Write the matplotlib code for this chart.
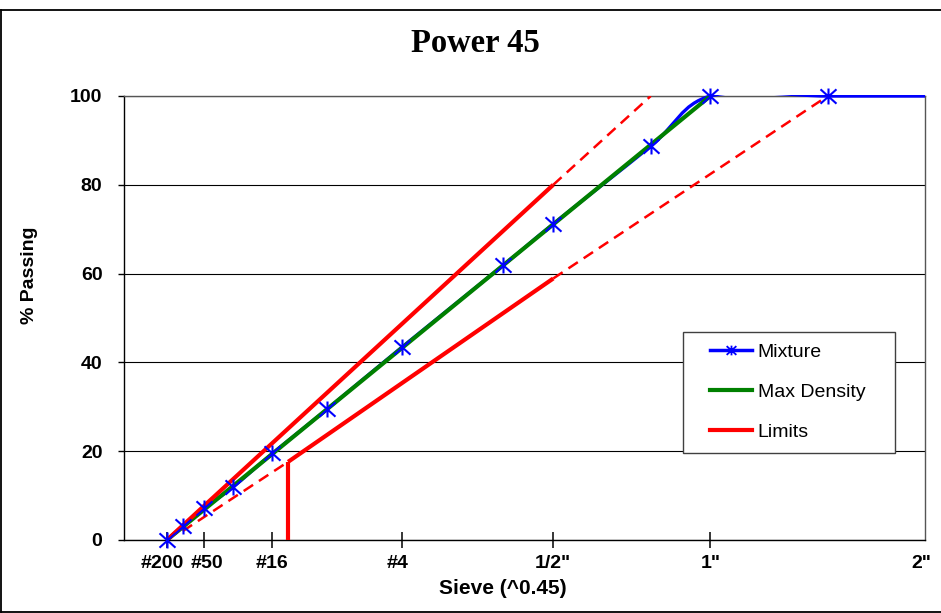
import numpy as np
import matplotlib
matplotlib.use("Agg")
import matplotlib.pyplot as plt
from matplotlib.path import Path
from matplotlib.patches import PathPatch
from matplotlib.lines import Line2D
from matplotlib.legend_handler import HandlerLine2D
from matplotlib.transforms import Bbox, TransformedBbox, ScaledTranslation

plt.rcParams['font.family'] = ['Liberation Sans', 'DejaVu Sans']

POW = 0.45

# ---- data ----
sieve_ticks_mm = [0.075, 0.3, 1.18, 4.75, 12.5, 25.0, 50.0]
sieve_labels = ['#200', '#50', '#16', '#4', '1/2"', '1"', '2"']

mix_sizes_mm = [0.075, 0.15, 0.3, 0.6, 1.18, 2.36, 4.75, 9.5, 12.5, 19.7, 25.0, 37.5, 50.0]
mix_passing = [0, 3.2, 7.1, 12.0, 19.5, 29.4, 43.4, 61.9, 71.2, 88.7, 100, 100, 100]

maxd_sizes = [0.075, 25.0]
maxd_passing = [0, 100]

upper_solid_sizes = [0.075, 12.5]
upper_solid_pass = [0, 80]
upper_dash_sizes = [12.5, 19.7]
upper_dash_pass = [80, 100]

lower_dash1_sizes = [0.15, 1.475]
lower_dash1_pass = [2.0, 17.6]
lower_solid_sizes = [1.475, 12.5]
lower_solid_pass = [17.6, 58.9]
lower_dash2_sizes = [12.5, 37.5]
lower_dash2_pass = [58.9, 100]
vline_sizes = [1.475, 1.475]
vline_pass = [0, 17.6]


def forward(x):
    x = np.asarray(x, dtype=float)
    return np.sign(x) * np.abs(x) ** POW


def inverse(x):
    x = np.asarray(x, dtype=float)
    return np.sign(x) * np.abs(x) ** (1.0 / POW)


fig = plt.figure(figsize=(9.41, 6.13), dpi=100)
ax = fig.add_axes([124 / 941, 1 - 540 / 613, 801 / 941, 444 / 613])
ax.set_xscale('function', functions=(forward, inverse))

BLUE = '#0000FF'
GREEN = '#008000'
RED = '#FF0000'

# Excel-like star marker: X plus vertical bar
star = Path([(-1, -0.9), (1, 0.9), (-1, 0.9), (1, -0.9), (0, -1), (0, 1)],
            [Path.MOVETO, Path.LINETO, Path.MOVETO, Path.LINETO, Path.MOVETO, Path.LINETO])

# smoothed mixture line (Excel-like smoothing, bezier through the points)
P = np.column_stack([forward(mix_sizes_mm), np.asarray(mix_passing, float)])
n = len(P)
verts = [P[0]]
codes = [Path.MOVETO]
for i in range(n - 1):
    p0 = P[i - 1] if i > 0 else P[i]
    p1 = P[i]
    p2 = P[i + 1]
    p3 = P[i + 2] if i + 2 < n else P[i + 1]
    c1 = p1 + (p2 - p0) / 6.0
    c2 = p2 - (p3 - p1) / 6.0
    verts += [c1, c2, p2]
    codes += [Path.CURVE4] * 3
verts = np.array(verts)
verts[:, 0] = inverse(verts[:, 0])
mix_patch = PathPatch(Path(verts, codes), facecolor='none', edgecolor=BLUE,
                      lw=2.4, zorder=2.6, transform=ax.transData)
ax.add_patch(mix_patch)
mix_patch.set_clip_path(None)
mix_patch.set_clip_box(TransformedBbox(Bbox.from_extents(0, 0, 1, 1 + 1.0 / 444), ax.transAxes))

# max density
ax.plot(maxd_sizes, maxd_passing, color=GREEN, lw=3, zorder=3, solid_capstyle='butt')

# limits
ax.plot(upper_solid_sizes, upper_solid_pass, color=RED, lw=3, zorder=4, solid_capstyle='butt')
ax.plot(lower_solid_sizes, lower_solid_pass, color=RED, lw=3, zorder=4, solid_capstyle='butt')
ax.plot(vline_sizes, vline_pass, color=RED, lw=3, zorder=4, solid_capstyle='butt')
for xs, ys in [(upper_dash_sizes, upper_dash_pass), (lower_dash1_sizes, lower_dash1_pass),
               (lower_dash2_sizes, lower_dash2_pass)]:
    ax.plot(xs, ys, color=RED, lw=1.8, dashes=[4.5, 2.8], zorder=4)

# mixture markers
ax.plot(mix_sizes_mm, mix_passing, ls='none', marker=star, ms=11.5, mew=1.5,
        color=BLUE, markevery=list(range(n - 1)), clip_on=False, zorder=5)

ax.set_xlim(0, 50)
ax.set_ylim(0, 100)

ax.set_xticks(sieve_ticks_mm)
ax.set_xticklabels(sieve_labels)
ax.set_yticks([0, 20, 40, 60, 80, 100])
ax.minorticks_off()
ax.tick_params(axis='x', direction='inout', length=11.5, width=1.1, pad=5,
               labelsize=14, colors='black')
ax.tick_params(axis='y', direction='out', length=4.5, width=1, pad=11,
               labelsize=14, colors='black')
for lbl in ax.get_xticklabels() + ax.get_yticklabels():
    lbl.set_fontweight('bold')
ax.xaxis.get_major_ticks()[-1].tick1line.set_visible(False)

# small horizontal nudges of crowded tick labels (as in the original)
xlbls = ax.get_xticklabels()
for lbl, dx_px in zip(xlbls, [-5, 3, 0, -4, 0, 0, -4]):
    lbl.set_transform(lbl.get_transform() + ScaledTranslation(dx_px / 100, 0, fig.dpi_scale_trans))

ax.yaxis.grid(True, color='black', lw=0.8)
ax.set_axisbelow(True)
for side in ['left', 'bottom']:
    ax.spines[side].set_color('black')
    ax.spines[side].set_linewidth(1)
for side in ['top', 'right']:
    ax.spines[side].set_color('#555555')
    ax.spines[side].set_linewidth(1)

# legend
h_mix = Line2D([], [], color=BLUE, lw=2.5, marker=star, ms=7, mew=1.3)
h_md = Line2D([], [], color=GREEN, lw=3)
h_lim = Line2D([], [], color=RED, lw=3)
leg = ax.legend([h_mix, h_md, h_lim], ['Mixture', 'Max Density', 'Limits'],
                loc='upper left', mode='expand',
                bbox_to_anchor=(683 / 941, 1 - 453 / 613, 212 / 941, 121 / 613),
                bbox_transform=fig.transFigure, borderaxespad=0,
                fontsize=14, borderpad=0.6, labelspacing=1.15,
                handlelength=2.93, handletextpad=0.31, fancybox=False,
                framealpha=1, edgecolor='#404040',
                handler_map={Line2D: HandlerLine2D(xpad=0.77)})
leg.get_frame().set_linewidth(1)

# texts
fig.text(0.505, 1 - 43 / 613, 'Power 45', ha='center', va='center', fontsize=23.5,
         fontweight='bold', family=['Liberation Serif', 'DejaVu Serif'])
fig.text(30 / 941, 1 - 275 / 613, '% Passing', rotation=90, ha='center', va='center',
         fontsize=14, fontweight='bold')
fig.text(503 / 941, 1 - 589 / 613, 'Sieve (^0.45)', ha='center', va='center',
         fontsize=15, fontweight='bold')

# chart border
for xs, ys in [([1 / 941, 1.0], [1 - 10 / 613, 1 - 10 / 613]),
               ([1 / 941, 1 / 941], [1 - 10 / 613, 1 / 613]),
               ([1 / 941, 1.0], [1 / 613, 1 / 613])]:
    fig.add_artist(Line2D(xs, ys, color='black', lw=1.3, transform=fig.transFigure))

fig.savefig('out.png', dpi=100)
